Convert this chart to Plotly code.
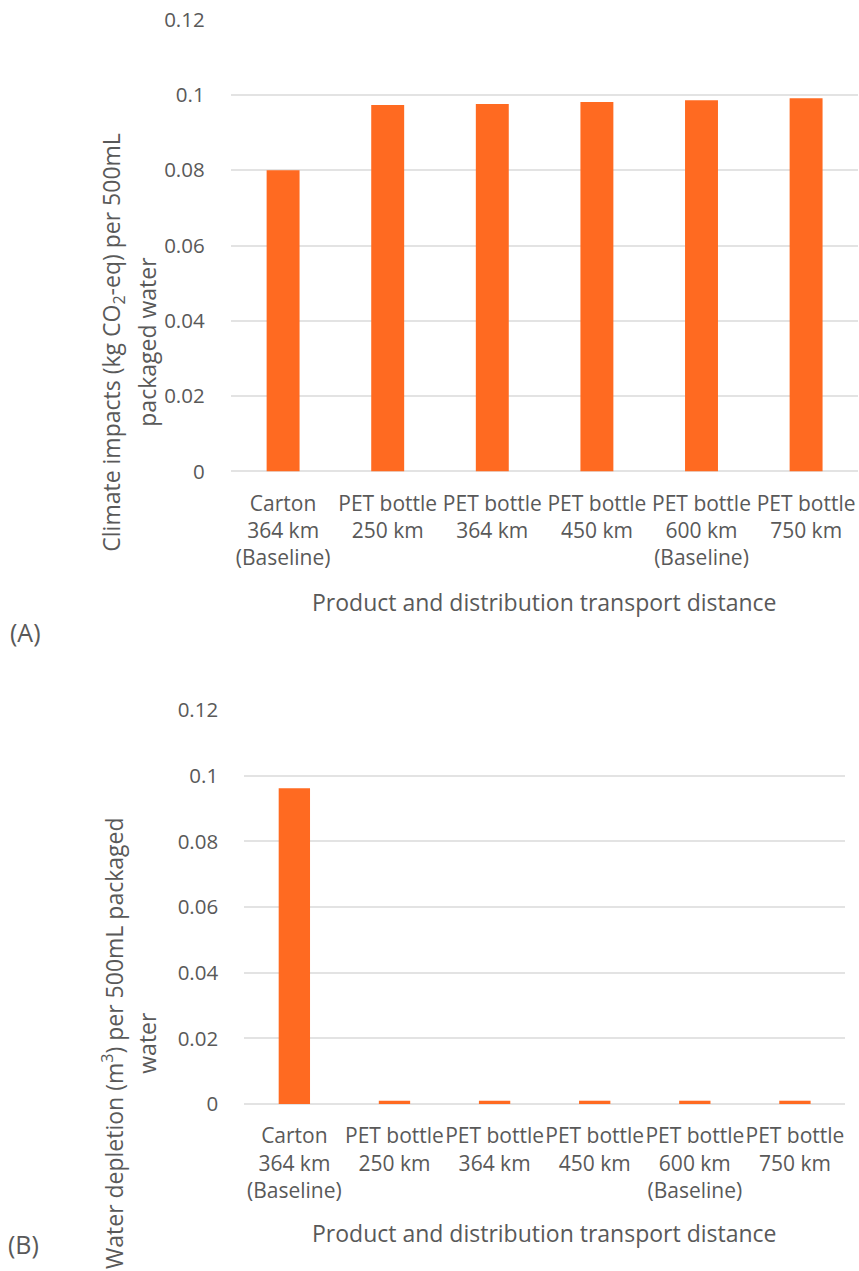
import plotly.graph_objects as go

# ---- data ----
categories = [
    "Carton<br>364 km<br>(Baseline)",
    "PET bottle<br>250 km",
    "PET bottle<br>364 km",
    "PET bottle<br>450 km",
    "PET bottle<br>600 km<br>(Baseline)",
    "PET bottle<br>750 km",
]
climate_impacts = [0.080, 0.0973, 0.0976, 0.0981, 0.0986, 0.0991]
water_depletion = [0.0962, 0.001, 0.001, 0.001, 0.001, 0.001]
y_ticks = [0, 0.02, 0.04, 0.06, 0.08, 0.1, 0.12]
y_tick_text = ["0", "0.02", "0.04", "0.06", "0.08", "0.1", "0.12"]

W, H = 859, 1271
FONT = "Open Sans"
TXT = "#595959"
BAR = "#FF6A21"
GRID = "#E3E3E3"


def fx(px):
    return px / W


def fy(px):
    return 1 - px / H


fig = go.Figure()
fig.add_trace(go.Bar(x=categories, y=climate_impacts, marker_color=BAR,
                     marker_line_width=0, xaxis="x", yaxis="y", width=0.315))
fig.add_trace(go.Bar(x=categories, y=water_depletion, marker_color=BAR,
                     marker_line_width=0, xaxis="x2", yaxis="y2", width=0.313))

xcommon = dict(tickangle=0, showgrid=False, showline=False, zeroline=False,
               automargin=False,
               ticks="outside", ticklen=13, tickcolor="rgba(0,0,0,0)",
               tickfont=dict(family=FONT, size=21, color=TXT), fixedrange=True)
ycommon = dict(range=[0, 0.12], tickvals=y_ticks, ticktext=y_tick_text,
               automargin=False,
               showgrid=True, gridcolor=GRID, gridwidth=1.6,
               zeroline=True, zerolinecolor=GRID, zerolinewidth=1.6,
               showline=False, ticks="outside", tickcolor="rgba(0,0,0,0)",
               tickfont=dict(family=FONT, size=20.5, color=TXT), fixedrange=True)

top_x = [fx(230.8), fx(858.4)]
bot_x = [fx(244.3), fx(845.0)]

fig.update_layout(
    width=W, height=H,
    margin=dict(l=0, r=0, t=0, b=0, pad=0),
    paper_bgcolor="white", plot_bgcolor="white",
    showlegend=False,
    xaxis=dict(domain=top_x, anchor="y", **xcommon),
    yaxis=dict(domain=[fy(471.4), fy(19.6)], anchor="x", ticklen=21, **ycommon),
    xaxis2=dict(domain=bot_x, anchor="y2", **xcommon),
    yaxis2=dict(domain=[fy(1104), fy(710.2)], anchor="x2", ticklen=21, **ycommon),
)

ann_font = dict(family=FONT, size=23, color=TXT)
annotations = [
    dict(text="Product and distribution transport distance", x=sum(top_x) / 2, y=fy(602),
         xanchor="center", yanchor="middle"),
    dict(text="Product and distribution transport distance", x=sum(bot_x) / 2, y=fy(1233),
         xanchor="center", yanchor="middle"),
    dict(text="(A)", x=fx(8), y=fy(632), xanchor="left", yanchor="middle",
         font=dict(family=FONT, size=25, color=TXT)),
    dict(text="(B)", x=fx(6), y=fy(1244), xanchor="left", yanchor="middle",
         font=dict(family=FONT, size=25, color=TXT)),
    dict(text="Climate impacts (kg CO<sub>2</sub>-eq) per 500mL", x=fx(112.7), y=fy(342),
         xanchor="center", yanchor="middle", textangle=-90),
    dict(text="packaged water", x=fx(146.7), y=fy(342),
         xanchor="center", yanchor="middle", textangle=-90),
    dict(text="Water depletion (m<sup>3</sup>) per 500mL packaged", x=fx(113), y=fy(1043),
         xanchor="center", yanchor="middle", textangle=-90),
    dict(text="water", x=fx(146.7), y=fy(1043),
         xanchor="center", yanchor="middle", textangle=-90),
]
for a in annotations:
    a.setdefault("font", ann_font)
    a.update(xref="paper", yref="paper", showarrow=False)
fig.update_layout(annotations=annotations)

fig.write_html("out.html", config={"displayModeBar": False})
